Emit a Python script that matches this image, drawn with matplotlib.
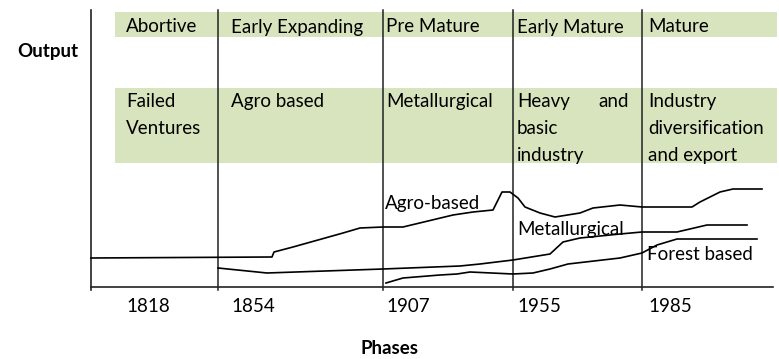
"""
Industrial development phases: output of agro, metallurgical and forest based
industries across the growth phases
"""
import matplotlib.pyplot as plt

plt.rcParams['font.family'] = ['Lato', 'DejaVu Sans']

# Phase boundaries (position along the phase axis) and their year labels
boundaries = [127, 292, 422, 551]
years = ['1818', '1854', '1907', '1955', '1985']
year_pos = [35, 140, 295, 426, 557]

# Phase names and the leading industries of each phase
phases = ['Abortive', 'Early Expanding', 'Pre Mature', 'Early Mature', 'Mature']
industries = ['Failed\nVentures', 'Agro based', 'Metallurgical',
              'Heavy\nbasic\nindustry', 'Industry\ndiversification\nand export']

# Output curves (position, output)
agro_x = [0, 181, 183, 202, 252, 269, 292, 312, 362, 382, 402, 411, 419, 427,
          434, 449, 464, 489, 502, 529, 551, 601, 609, 629, 642, 671]
agro_y = [29, 30, 35, 40, 54, 59, 60, 60, 72, 75, 77, 95, 95, 89,
          80, 74, 70, 74, 79, 82, 80, 80, 85, 95, 98, 98]
metal_x = [127, 176, 292, 369, 389, 422, 459, 472, 489, 529, 551, 586, 616, 656]
metal_y = [19, 14, 18, 21, 23, 27, 33, 45, 49, 53, 55, 55, 62, 62]
forest_x = [295, 312, 349, 366, 379, 422, 442, 459, 477, 529, 551, 566, 586, 666]
forest_y = [4, 9, 12, 13, 15, 13, 14, 18, 23, 29, 34, 42, 48, 48]

band_color = '#d7e4bd'
fs = 13.5

fig = plt.figure(figsize=(7.79, 3.59), dpi=100)
ax = fig.add_axes([91 / 779, 72 / 359, 682 / 779, 277 / 359])
ax.set_xlim(0, 682)
ax.set_ylim(0, 277)
for side in ['top', 'right', 'left', 'bottom']:
    ax.spines[side].set_visible(False)
ax.set_xticks([])
ax.set_yticks([])

# Green bands behind the phase names and industries
ax.fill_between([24, 686], 250, 275, color=band_color, lw=0, clip_on=False,
                zorder=0)
ax.fill_between([24, 686], 124, 199, color=band_color, lw=0, clip_on=False,
                zorder=0)

# Axes lines and phase separators
ax.plot([0, 0], [-3, 277], color='#222222', lw=1.2, clip_on=False)
ax.plot([0, 682], [0, 0], color='#222222', lw=1.2, clip_on=False)
for b in boundaries:
    ax.plot([b, b], [-3, 277], color='#222222', lw=1.1, clip_on=False)

# Curves
for xs, ys in [(agro_x, agro_y), (metal_x, metal_y), (forest_x, forest_y)]:
    ax.plot(xs, ys, color='black', lw=1.2, clip_on=False)

ax.text(294, 84, 'Agro-based', fontsize=fs, va='center')
ax.text(426, 58, 'Metallurgical', fontsize=fs, va='center')
ax.text(556, 33, 'Forest based', fontsize=fs, va='center')

# Phase names and industries
for xp, name, ind in zip(year_pos, phases, industries):
    ax.text(xp, 260, name, fontsize=fs, va='center')
    ax.text(xp, 194, ind, fontsize=fs, va='top', linespacing=1.7)
    if ind.startswith('Heavy'):
        ax.text(538, 194, 'and', fontsize=fs, va='top', ha='right')

# Year labels
for xp, yr in zip(year_pos, years):
    ax.text(xp, -19, yr, fontsize=fs, va='center')

fig.text(48 / 779, 1 - 52 / 359, 'Output', fontsize=fs, fontweight='bold',
         ha='center', va='center')
fig.text(390 / 779, 1 - 349 / 359, 'Phases', fontsize=fs, fontweight='bold',
         ha='center', va='center')

fig.savefig('out.png', dpi=100)
